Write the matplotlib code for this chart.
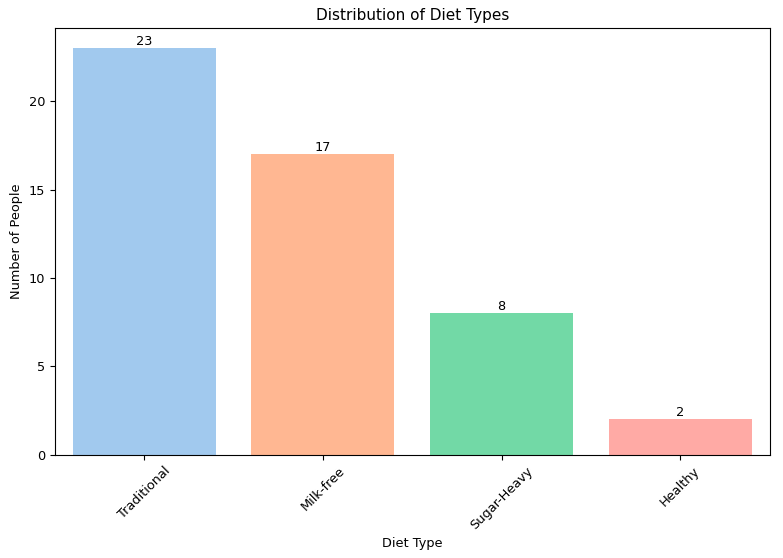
import matplotlib.pyplot as plt

plt.rcParams["font.size"] = 9.3

diet_types = ["Traditional", "Milk-free", "Sugar-Heavy", "Healthy"]
counts = [23, 17, 8, 2]
colors = ["#a1c9ee", "#ffb792", "#72d9a6", "#ffaaa5"]

fig, ax = plt.subplots(figsize=(7.83, 5.58), dpi=100)
bars = ax.bar(diet_types, counts, color=colors)

for bar, c in zip(bars, counts):
    ax.text(bar.get_x() + bar.get_width() / 2, bar.get_height(), str(c),
            ha="center", va="bottom")

ax.set_title("Distribution of Diet Types", fontsize=11)
ax.set_xlabel("Diet Type")
ax.set_ylabel("Number of People")
ax.set_xlim(-0.5, 3.5)
plt.xticks(rotation=45)

plt.subplots_adjust(left=0.070, right=0.983, top=0.950, bottom=0.185)
plt.savefig("out.png", dpi=100)
